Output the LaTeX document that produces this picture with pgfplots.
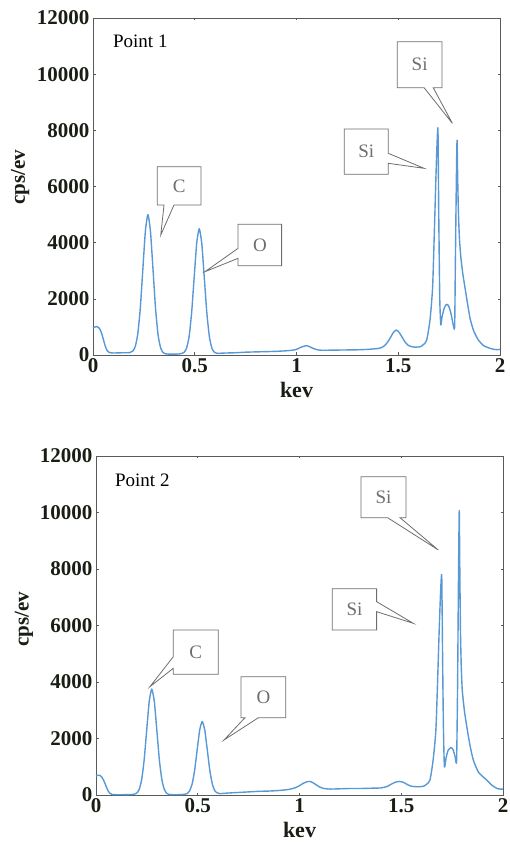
\documentclass[border=0pt]{standalone}
\usepackage{fontspec}
\setmainfont{Liberation Serif}
\usepackage{pgfplots}
\pgfplotsset{compat=1.18}
\definecolor{specblue}{RGB}{88,152,214}
\definecolor{framegray}{RGB}{90,90,90}
\definecolor{boxgray}{RGB}{110,110,110}
\definecolor{tickdark}{RGB}{25,30,20}
\tikzset{
  callout/.style={draw=boxgray, fill=white, line width=0.8pt},
  calltext/.style={text=boxgray, font=\fontsize{19}{22}\selectfont},
}
\pgfplotsset{
  eds/.style={
    scale only axis, width=407pt,
    xmin=0, xmax=2, ymin=0, ymax=12000,
    xtick={0,0.5,1,1.5,2},
    ytick={0,2000,4000,6000,8000,10000,12000},
    xticklabels={0,0.5,1,1.5,2},
    scaled y ticks=false,
    /pgf/number format/set thousands separator={},
    /pgf/number format/assume math mode=true,
    tick align=inside, major tick length=2.5pt,
    tick style={framegray, line width=0.6pt},
    axis line style={framegray, line width=0.9pt},
    ticklabel style={font=\fontsize{21}{24}\selectfont\bfseries, text=tickdark},
    xlabel={kev}, ylabel={cps/ev},
    xlabel style={font=\fontsize{22}{24}\selectfont\bfseries, text=tickdark, anchor=center},
    ylabel style={font=\fontsize{21}{24}\selectfont\bfseries, text=tickdark, anchor=center},
    clip=false,
  },
  spec/.style={color=specblue, line width=1.4pt, smooth, tension=0.35, line join=round},
}
\begin{document}
\begin{tikzpicture}
\useasboundingbox (0,0) rectangle (509pt,842pt);
% ---------------- Point 1 ----------------
\begin{axis}[eds, height=337pt, at={(93pt,487pt)}, anchor=south west,
  xlabel style={at={(axis description cs:0.5,-0.104)}},
  ylabel style={at={(axis description cs:-0.179,0.528)}}]
\addplot[spec] coordinates {
(0,960)(0.01,1000)(0.02,1010)(0.03,960)(0.04,820)(0.05,580)(0.06,320)(0.07,150)(0.08,90)(0.10,70)(0.12,75)(0.15,80)(0.18,85)
(0.195,135)(0.2075,296)(0.22,746)(0.2325,1678)(0.245,3064)(0.2575,4422)(0.27,5000)(0.2825,4390)(0.295,3030)(0.3075,1640)(0.32,700)(0.3325,250)(0.345,80)(0.3575,40)
(0.38,30)(0.40,30)(0.42,35)
(0.4345,50)(0.447,90)(0.4595,236)(0.472,643)(0.4845,1488)(0.497,2745)(0.5095,3976)(0.522,4500)(0.5345,3976)(0.547,2745)(0.5595,1488)(0.572,643)(0.5845,236)(0.597,95)(0.6095,60)
(0.65,70)(0.70,80)(0.75,100)(0.80,110)(0.85,120)(0.90,130)(0.95,150)(0.98,170)
(1.00,200)(1.02,270)(1.04,320)(1.05,330)(1.06,310)(1.08,240)(1.10,190)(1.12,170)
(1.15,170)(1.20,175)(1.25,180)(1.30,185)(1.35,200)(1.40,230)(1.42,270)
(1.43,320)(1.445,430)(1.46,600)(1.475,790)(1.49,890)(1.505,800)(1.52,620)(1.535,450)(1.55,340)(1.57,290)(1.59,280)(1.61,300)(1.625,380)
(1.64,534)(1.656,1246)(1.669,2430)(1.679,4800)(1.688,7000)(1.695,8070)(1.699,5000)(1.704,2000)(1.709,1070)
(1.715,1350)(1.725,1650)(1.735,1790)(1.742,1800)(1.75,1700)(1.76,1450)(1.768,1150)(1.777,1000)
(1.781,3500)(1.786,6500)(1.789,7650)(1.792,6300)(1.796,5000)(1.801,4100)(1.808,3450)(1.818,2850)(1.828,2400)(1.84,1850)(1.853,1300)(1.87,870)(1.893,540)(1.92,330)(1.951,238)(1.97,200)(1.985,190)(2.0,200)
};
\node[anchor=west, inner sep=0pt, font=\fontsize{19}{22}\selectfont] at (axis cs:0.098,11165) {Point 1};
% C
\draw[callout] (axis cs:0.316,6703) -- (axis cs:0.531,6703) -- (axis cs:0.531,5340) -- (axis cs:0.398,5340) -- (axis cs:0.333,4272) -- (axis cs:0.349,5340) -- (axis cs:0.316,5340) -- cycle;
\node[calltext] at (axis cs:0.4235,6021) {C};
% O
\draw[callout] (axis cs:0.713,4653) -- (axis cs:0.927,4653) -- (axis cs:0.927,3179) -- (axis cs:0.713,3179) -- (axis cs:0.713,3443) -- (axis cs:0.550,2965) -- (axis cs:0.713,3798) -- cycle;
\node[calltext] at (axis cs:0.82,3916) {O};
% Si upper
\draw[callout] (axis cs:1.495,11153) -- (axis cs:1.715,11153) -- (axis cs:1.715,9516) -- (axis cs:1.672,9516) -- (axis cs:1.766,8249) -- (axis cs:1.627,9516) -- (axis cs:1.495,9516) -- cycle;
\node[calltext] at (axis cs:1.605,10335) {Si};
% Si lower
\draw[callout] (axis cs:1.235,8046) -- (axis cs:1.451,8046) -- (axis cs:1.451,7181) -- (axis cs:1.627,6647) -- (axis cs:1.451,6825) -- (axis cs:1.451,6433) -- (axis cs:1.235,6433) -- cycle;
\node[calltext] at (axis cs:1.343,7240) {Si};
\end{axis}
% ---------------- Point 2 ----------------
\begin{axis}[eds, height=339pt, at={(96pt,47pt)}, anchor=south west,
  xlabel style={at={(axis description cs:0.5,-0.103)}},
  ylabel style={at={(axis description cs:-0.177,0.519)}}]
\addplot[spec] coordinates {
(0,680)(0.01,700)(0.02,690)(0.03,620)(0.04,480)(0.05,300)(0.06,140)(0.07,50)(0.08,20)(0.10,10)(0.13,10)(0.16,15)(0.18,20)
(0.1865,28)(0.199,61)(0.2115,184)(0.224,525)(0.2365,1231)(0.249,2282)(0.2615,3312)(0.274,3750)(0.2865,3312)(0.299,2282)(0.3115,1231)(0.324,525)(0.3365,184)(0.349,50)(0.3615,15)
(0.38,10)(0.40,10)(0.42,15)(0.435,25)
(0.447,45)(0.4595,143)(0.472,378)(0.4845,864)(0.497,1589)(0.5095,2298)(0.522,2600)(0.5345,2298)(0.547,1589)(0.5595,864)(0.572,378)(0.5845,143)(0.597,70)(0.6095,50)
(0.65,70)(0.70,90)(0.75,110)(0.80,130)(0.85,140)(0.90,160)(0.95,200)(0.98,260)
(1.00,330)(1.02,420)(1.04,475)(1.05,480)(1.06,460)(1.08,370)(1.10,280)(1.12,230)(1.15,210)
(1.20,220)(1.25,230)(1.30,230)(1.35,240)(1.40,250)(1.43,300)
(1.45,380)(1.47,450)(1.49,480)(1.51,450)(1.53,370)(1.55,310)(1.58,290)(1.61,310)(1.625,380)
(1.641,530)(1.656,1200)(1.671,2420)(1.687,5960)(1.694,7300)(1.699,7750)(1.703,5000)(1.707,2500)(1.712,1000)
(1.72,1300)(1.73,1580)(1.745,1680)(1.755,1600)(1.765,1350)(1.772,1215)
(1.777,4000)(1.781,7500)(1.785,10070)(1.788,7800)(1.791,5800)(1.795,4500)(1.80,3700)(1.81,3000)(1.822,2420)(1.838,1750)(1.854,1240)(1.88,800)(1.92,530)(1.945,350)(1.969,236)(1.985,210)(2.0,210)
};
\node[anchor=west, inner sep=0pt, font=\fontsize{19}{22}\selectfont] at (axis cs:0.093,11151) {Point 2};
% C
\draw[callout] (axis cs:0.380,5841) -- (axis cs:0.601,5841) -- (axis cs:0.601,4273) -- (axis cs:0.380,4273) -- (axis cs:0.380,4485) -- (axis cs:0.265,3834) -- (axis cs:0.380,4896) -- cycle;
\node[calltext] at (axis cs:0.4905,5057) {C};
% O
\draw[callout] (axis cs:0.713,4188) -- (axis cs:0.932,4188) -- (axis cs:0.932,2736) -- (axis cs:0.798,2736) -- (axis cs:0.629,1947) -- (axis cs:0.732,2736) -- (axis cs:0.713,2736) -- cycle;
\node[calltext] at (axis cs:0.8225,3462) {O};
% Si upper
\draw[callout] (axis cs:1.302,11268) -- (axis cs:1.523,11268) -- (axis cs:1.523,9816) -- (axis cs:1.494,9816) -- (axis cs:1.682,8673) -- (axis cs:1.433,9816) -- (axis cs:1.302,9816) -- cycle;
\node[calltext] at (axis cs:1.4125,10542) {Si};
% Si lower
\draw[callout] (axis cs:1.161,7303) -- (axis cs:1.379,7303) -- (axis cs:1.379,6843) -- (axis cs:1.559,6078) -- (axis cs:1.379,6489) -- (axis cs:1.379,5841) -- (axis cs:1.161,5841) -- cycle;
\node[calltext] at (axis cs:1.27,6572) {Si};
\end{axis}
\end{tikzpicture}
\end{document}
